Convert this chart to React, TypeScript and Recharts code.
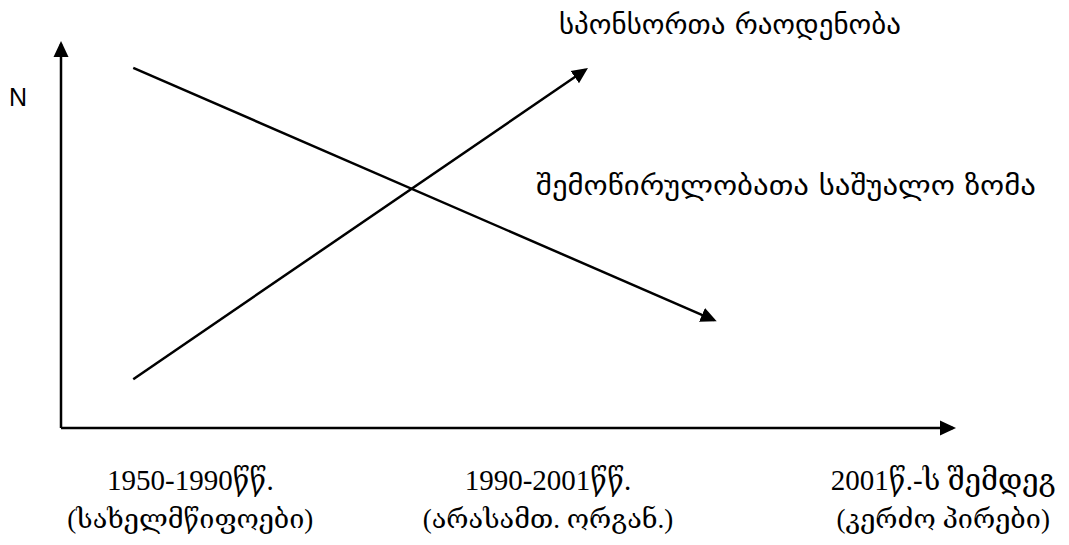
import React from "react";
import { LineChart, Line, XAxis, YAxis } from "recharts";

const periods = ["1950-1990წწ.", "1990-2001წწ.", "2001წ.-ს შემდეგ"];
const actors = ["(სახელმწიფოები)", "(არასამთ. ორგან.)", "(კერძო პირები)"];
const periodTicks = [14.5, 54.6, 98.9];

const sponsorX = [8.1, 58.8];
const sponsorY = [12.7, 93.3];
const donationX = [8.1, 73.2];
const donationY = [93.8, 28.1];

const sponsorLabel = "სპონსორთა რაოდენობა";
const donationLabel = "შემოწირულობათა საშუალო ზომა";
const yLabel = "N";

const sponsorData = sponsorX.map((x, i) => ({ x, y: sponsorY[i] }));
const donationData = donationX.map((x, i) => ({ x, y: donationY[i] }));

const W = 1069;
const H = 545;

const serif = "'Liberation Serif', 'DejaVu Serif', serif";
const sans = "'DejaVu Sans', sans-serif";

const PeriodTick = (props: any) => {
  const { x, y, payload } = props;
  const i = periodTicks.indexOf(payload.value);
  if (i < 0) return null;
  return (
    <g>
      <text x={x} y={y + 60} textAnchor="middle" fontFamily={serif} fontSize={29} fill="#000">
        {periods[i]}
      </text>
      <text x={x} y={y + 98} textAnchor="middle" fontFamily={serif} fontSize={27} fill="#000">
        {actors[i]}
      </text>
    </g>
  );
};

export default function App() {
  return (
    <div style={{ position: "absolute", left: 0, top: 0, width: W, height: H, background: "#fff" }}>
      <svg width={0} height={0} style={{ position: "absolute" }}>
        <defs>
          <marker
            id="arrowHead"
            viewBox="0 0 16 16"
            refX={13}
            refY={8}
            markerWidth={16}
            markerHeight={16}
            markerUnits="userSpaceOnUse"
            orient="auto-start-reverse"
          >
            <path d="M0,0.5 L16,8 L0,15.5 z" fill="#000" />
          </marker>
        </defs>
      </svg>
      <LineChart
        width={W}
        height={H}
        margin={{ top: 44, right: 116, bottom: 116, left: 60 }}
      >
        <XAxis
          type="number"
          dataKey="x"
          domain={[0, 100]}
          ticks={periodTicks}
          height={1}
          tickLine={false}
          tickSize={0}
          tick={<PeriodTick />}
          interval={0}
          axisLine={{ stroke: "#000", strokeWidth: 2.5, markerEnd: "url(#arrowHead)" } as any}
        />
        <YAxis
          type="number"
          domain={[0, 100]}
          width={1}
          tick={false}
          tickLine={false}
          axisLine={{ stroke: "#000", strokeWidth: 2.5, markerStart: "url(#arrowHead)" } as any}
        />
        <Line
          data={sponsorData}
          dataKey="y"
          type="linear"
          stroke="#000"
          strokeWidth={2.5}
          dot={false}
          activeDot={false}
          markerEnd="url(#arrowHead)"
          isAnimationActive={false}
        />
        <Line
          data={donationData}
          dataKey="y"
          type="linear"
          stroke="#000"
          strokeWidth={2.5}
          dot={false}
          activeDot={false}
          markerEnd="url(#arrowHead)"
          isAnimationActive={false}
        />
        <text x={559} y={34} fontFamily={sans} fontSize={28} fill="#000" textLength={342} lengthAdjust="spacingAndGlyphs">
          {sponsorLabel}
        </text>
        <text x={536} y={195} fontFamily={sans} fontSize={28} fill="#000" textLength={500} lengthAdjust="spacingAndGlyphs">
          {donationLabel}
        </text>
        <text x={9} y={106} fontFamily="'Liberation Sans', Arial, sans-serif" fontSize={25} fill="#000">
          {yLabel}
        </text>
      </LineChart>
    </div>
  );
}
